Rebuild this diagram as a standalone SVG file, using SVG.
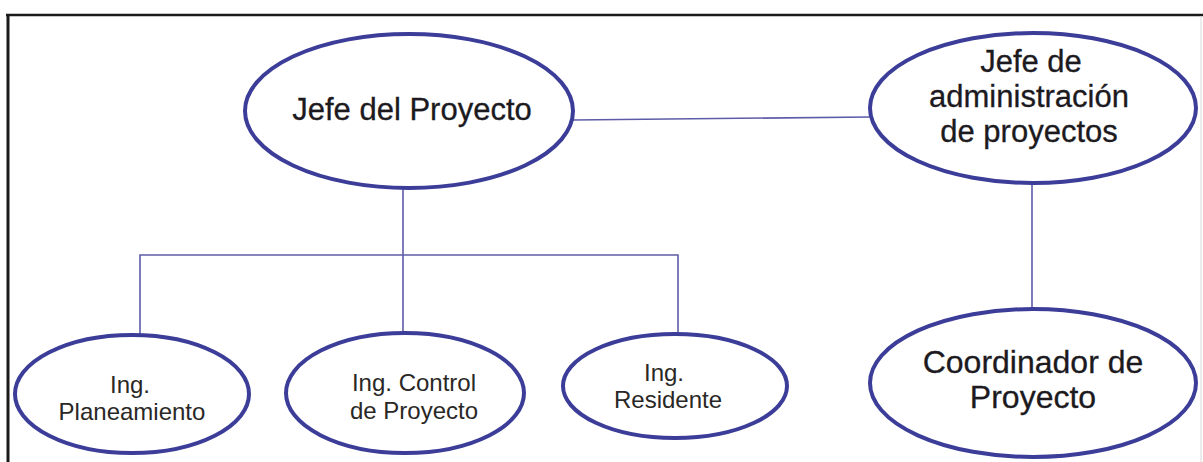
<svg xmlns="http://www.w3.org/2000/svg" width="1203" height="462" viewBox="0 0 1203 462">
  <style>
    .node ellipse { fill: #ffffff; stroke: #3b3d98; stroke-width: 4; }
    .big { font-family: "Liberation Sans", Arial, sans-serif; font-size: 32px; fill: #1c1a1e; text-anchor: middle; stroke: #1c1a1e; stroke-width: 0.3; }
    .small { font-family: "Liberation Sans", Arial, sans-serif; font-size: 24px; fill: #2a2826; text-anchor: middle; }
    .conn { fill: none; stroke: #5d5ca8; stroke-width: 1.6; }
  </style>
  <rect x="0" y="0" width="1203" height="462" fill="#ffffff"/>
  <g id="frame">
    <line x1="6" y1="15" x2="1203" y2="15" stroke="#1a1a1a" stroke-width="2.5"/>
    <line x1="8" y1="14" x2="8" y2="462" stroke="#1a1a1a" stroke-width="3"/>
    <line x1="1201" y1="16" x2="1201" y2="462" stroke="#d8d8d8" stroke-width="1"/>
  </g>
  <g id="connectors">
    <line class="conn" x1="573" y1="120" x2="870" y2="117"/>
    <line class="conn" x1="403" y1="188" x2="403" y2="333"/>
    <polyline class="conn" points="140,335 140,255 678,255 678,333"/>
    <line class="conn" x1="1032" y1="183" x2="1032" y2="308"/>
  </g>
  <g id="jefe-proyecto" class="node">
    <ellipse cx="409" cy="111" rx="164" ry="77"/>
    <text class="big" x="412" y="120" style="font-size:31px">Jefe del Proyecto</text>
  </g>
  <g id="jefe-administracion" class="node">
    <ellipse cx="1033" cy="108" rx="163" ry="75"/>
    <text class="big" x="1031" y="72" style="font-size:31px">Jefe de</text>
    <text class="big" x="1029" y="107" style="font-size:31px">administración</text>
    <text class="big" x="1029" y="142" style="font-size:31px">de proyectos</text>
  </g>
  <g id="coordinador" class="node">
    <ellipse cx="1033" cy="383" rx="163" ry="74"/>
    <text class="big" x="1033" y="373">Coordinador de</text>
    <text class="big" x="1033" y="408">Proyecto</text>
  </g>
  <g id="ing-planeamiento" class="node">
    <ellipse cx="132" cy="394" rx="117" ry="59"/>
    <text class="small" x="130" y="393">Ing.</text>
    <text class="small" x="132" y="420">Planeamiento</text>
  </g>
  <g id="ing-control" class="node">
    <ellipse cx="405" cy="393" rx="119" ry="60"/>
    <text class="small" x="414" y="391">Ing. Control</text>
    <text class="small" x="414" y="419">de Proyecto</text>
  </g>
  <g id="ing-residente" class="node">
    <ellipse cx="675" cy="386" rx="112" ry="52"/>
    <text class="small" x="664" y="381">Ing.</text>
    <text class="small" x="668" y="408">Residente</text>
  </g>
</svg>
